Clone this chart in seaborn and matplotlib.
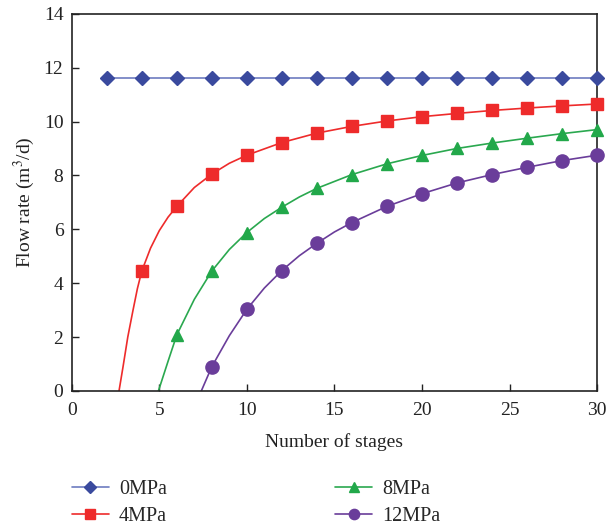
import numpy as np
import pandas as pd
import matplotlib
matplotlib.use("Agg")
import matplotlib.pyplot as plt
import seaborn as sns

# Read values (marker points at even stages plus a few points)
stages_0 = [2, 4, 6, 8, 10, 12, 14, 16, 18, 20, 22, 24, 26, 28, 30]
flow_0 = [11.6] * 15

stages_4 = [2.7, 2.93, 3.2, 3.5, 3.75, 4, 4.5, 5, 5.5, 6, 7, 8, 9, 10, 12, 14, 16, 18,
            20, 22, 24, 26, 28, 30]
flow_4 = [0.0, 0.9, 2.0, 3.0, 3.8, 4.45, 5.3, 5.95, 6.45, 6.85, 7.55, 8.05, 8.45, 8.75,
          9.22, 9.57, 9.82, 10.02, 10.18, 10.30, 10.41, 10.50, 10.58, 10.65]

stages_8 = [4.95, 5.5, 6, 7, 8, 9, 10, 11, 12, 13, 14, 16, 18, 20, 22, 24, 26, 28, 30]
flow_8 = [0.0, 1.1, 2.08, 3.40, 4.45, 5.25, 5.88, 6.40, 6.82, 7.20, 7.52, 8.03, 8.43,
          8.74, 9.00, 9.20, 9.38, 9.55, 9.70]

stages_12 = [7.4, 8, 9, 10, 11, 12, 13, 14, 15, 16, 18, 20, 22, 24, 26, 28, 30]
flow_12 = [0.0, 0.90, 2.05, 3.03, 3.82, 4.47, 5.02, 5.48, 5.90, 6.25, 6.85, 7.32,
           7.72, 8.03, 8.30, 8.55, 8.75]

labels = ["0MPa", "4MPa", "8MPa", "12MPa"]

sns.set_theme(style="white")
plt.rcParams["font.family"] = ["Liberation Serif", "DejaVu Serif"]
plt.rcParams["mathtext.fontset"] = "stix"

fig = plt.figure(figsize=(6.08, 5.29), dpi=100)
ax = fig.add_axes([0.118, 0.261, 0.864, 0.713])

series = [
    (stages_0, flow_0, "#6d7cc0", "#3a4a9e", "D", 7.5),
    (stages_4, flow_4, "#ee2b2b", "#ee2b2b", "s", 9),
    (stages_8, flow_8, "#2aa84f", "#22a84a", "^", 9),
    (stages_12, flow_12, "#6a3d9a", "#6a3d9a", "o", 9.5),
]

handles = []
for (xs, ys, lc, mc, mk, ms), lab in zip(series, labels):
    df = pd.DataFrame({"x": xs, "y": ys})
    sns.lineplot(data=df, x="x", y="y", ax=ax, color=lc, lw=1.2, sort=True,
                 estimator=None)
    dm = df[np.isclose(df["x"] % 2, 0)]
    ax.plot(dm["x"], dm["y"], ls="none", marker=mk, ms=ms, color=mc,
            mec=mc, clip_on=False, zorder=4)
    h, = ax.plot([], [], color=lc, lw=1.2, marker=mk, ms=ms * 0.78, mfc=mc, mec=mc)
    handles.append(h)

ax.set_xlim(0, 30)
ax.set_ylim(0, 14)
ax.set_xticks([0, 5, 10, 15, 20, 25, 30])
ax.set_yticks([0, 2, 4, 6, 8, 10, 12, 14])
ax.tick_params(axis="both", direction="in", length=5, width=1, labelsize=14,
               colors="#222222", bottom=True, left=True, top=False, right=False)
ax.tick_params(axis="x", pad=8)
ax.tick_params(axis="y", pad=6)
for sp in ax.spines.values():
    sp.set_visible(True)
    sp.set_color("#222222")
    sp.set_linewidth(1.2)

ax.set_xlabel("Number of stages", fontsize=14, color="#222222", labelpad=10)
ax.set_ylabel("Flow rate (m$^3$/d)", fontsize=14, color="#222222", labelpad=5)

fig.legend(handles, labels, ncol=2, loc="upper left",
           bbox_to_anchor=(0.118, 0.092), frameon=False, fontsize=14.5,
           handlelength=1.85, columnspacing=8.35, labelspacing=0.38,
           handletextpad=0.5, borderaxespad=0, borderpad=0)

fig.savefig("out.png", dpi=100)
